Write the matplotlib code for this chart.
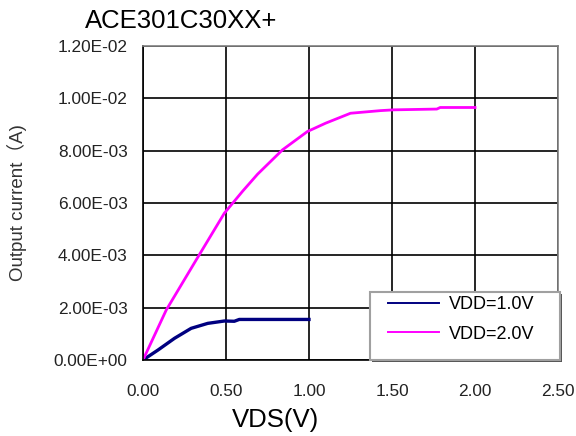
import matplotlib
matplotlib.use("Agg")
import matplotlib.pyplot as plt
from matplotlib.patches import Rectangle

# VDD = 1.0 V curve
vds_1v = [0.0, 0.09, 0.19, 0.29, 0.39, 0.49, 0.55, 0.58, 0.80, 1.00]
id_1v = [0.0, 0.38e-3, 0.83e-3, 1.21e-3, 1.40e-3, 1.49e-3, 1.48e-3, 1.55e-3, 1.55e-3, 1.55e-3]

# VDD = 2.0 V curve
vds_2v = [0.0, 0.14, 0.32, 0.49, 0.60, 0.69, 0.84, 0.99, 1.10, 1.25, 1.43, 1.51, 1.77, 1.79, 2.00]
id_2v = [0.0, 1.91e-3, 3.82e-3, 5.61e-3, 6.45e-3, 7.10e-3, 8.03e-3, 8.73e-3, 9.05e-3,
         9.43e-3, 9.53e-3, 9.56e-3, 9.59e-3, 9.65e-3, 9.65e-3]

x_ticks = [0.0, 0.5, 1.0, 1.5, 2.0, 2.5]
y_ticks = [0.0, 2e-3, 4e-3, 6e-3, 8e-3, 10e-3, 12e-3]
y_labels = ["0.00E+00", "2.00E-03", "4.00E-03", "6.00E-03", "8.00E-03", "1.00E-02", "1.20E-02"]

plt.rcParams['font.family'] = ['Liberation Sans', 'Noto Sans CJK SC', 'DejaVu Sans']

W, H = 576, 436
fig = plt.figure(figsize=(W / 100, H / 100), dpi=100)
ax = fig.add_axes([143 / W, 1 - 360 / H, 415 / W, 314 / H])

ax.plot(vds_1v, id_1v, color='#000080', lw=2.4, label='VDD=1.0V')
ax.plot(vds_2v, id_2v, color='#ff00ff', lw=2.0, label='VDD=2.0V')

ax.set_xlim(0, 2.5)
ax.set_ylim(0, 0.012)
ax.set_xticks(x_ticks)
ax.set_xticklabels([f"{v:.2f}" for v in x_ticks])
ax.set_yticks(y_ticks)
ax.set_yticklabels(y_labels)
ax.grid(True, color='black', lw=1.2)
ax.set_axisbelow(True)

for side in ['left', 'bottom']:
    ax.spines[side].set_color('black')
    ax.spines[side].set_linewidth(1.2)
for side in ['top', 'right']:
    ax.spines[side].set_color('#808080')
    ax.spines[side].set_linewidth(1.2)

ax.tick_params(axis='y', length=0, pad=11, labelsize=12.4, colors='#222222')
ax.tick_params(axis='x', length=0, pad=17, labelsize=12.4, colors='#222222')

# titles and axis labels placed like the original Excel chart
fig.text(85 / W, 1 - 28.3 / H, 'ACE301C30XX+', fontsize=18.5, va='baseline', ha='left')
fig.text(276 / W, 1 - 426.7 / H, 'VDS(V)', fontsize=18.5, va='baseline', ha='center')
fig.text(17 / W, 1 - 203 / H, 'Output current（A)', fontsize=13.5, color='#333333',
         rotation=90, va='center', ha='center')

# legend box with a small shadow
shadow = Rectangle((372 / W, 1 - 362 / H), 190 / W, 68 / H, transform=fig.transFigure,
                   facecolor='#555555', edgecolor='none', zorder=3, clip_on=False)
box = Rectangle((370 / W, 1 - 360 / H), 190 / W, 68 / H, transform=fig.transFigure,
                facecolor='white', edgecolor='#a0a0a0', lw=1.5, zorder=3.1, clip_on=False)
ax.add_patch(shadow)
ax.add_patch(box)

leg = ax.legend(loc='upper left', bbox_to_anchor=(388 / W, 1 - 296 / H),
                bbox_transform=fig.transFigure, fontsize=13, frameon=False,
                handlelength=2.8, handletextpad=0.55, labelspacing=0.7,
                borderpad=0, borderaxespad=0)
leg.set_zorder(5)
for line in leg.get_lines():
    line.set_linewidth(1.4)

fig.savefig('out.png', dpi=100)
